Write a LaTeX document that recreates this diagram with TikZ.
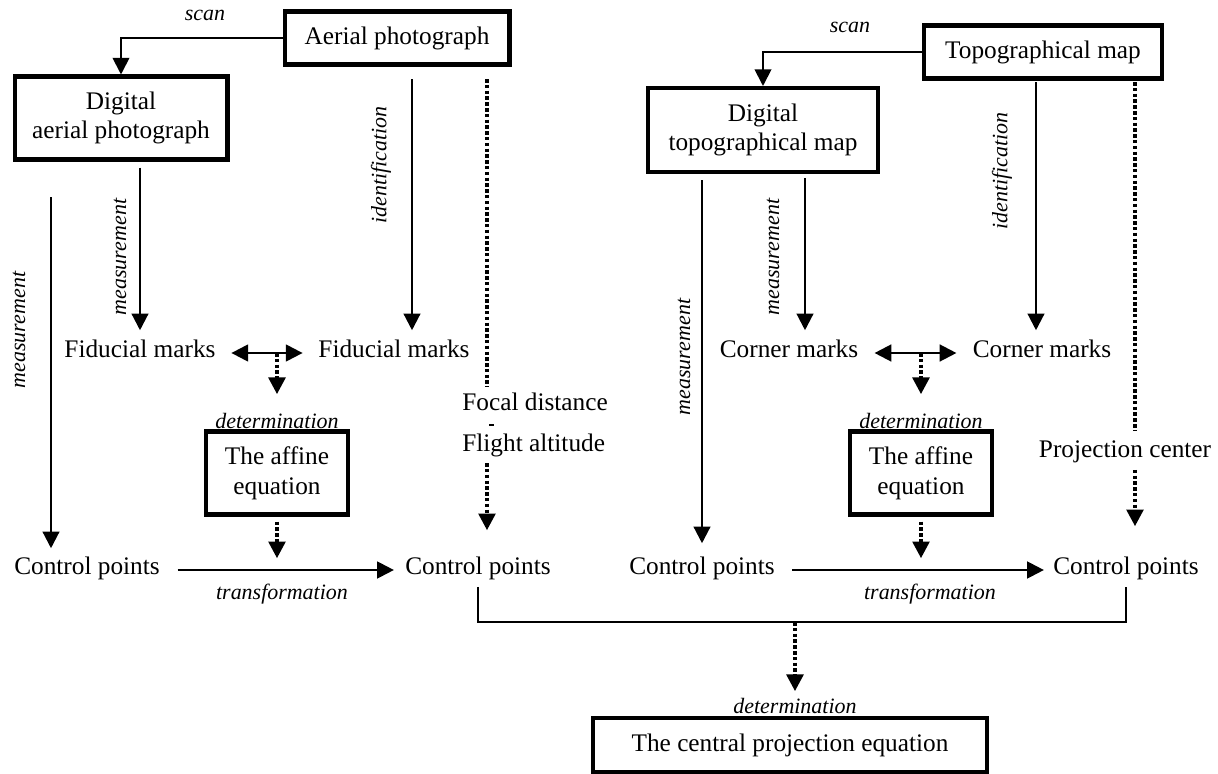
\documentclass[tikz,border=0pt]{standalone}
\usepackage{fontspec}
\setmainfont{Liberation Serif}
\usetikzlibrary{arrows.meta}

\begin{document}
\begin{tikzpicture}[x=0.02cm, y=-0.02cm,
	box/.style={draw, line width=2.3pt, align=center, inner sep=0pt, font=\fontsize{14.4}{17}\selectfont},
	txt/.style={inner sep=2pt, text height=0.7em, text depth=0.2em, font=\fontsize{14.4}{17}\selectfont},
	stack/.style={inner sep=0pt, align=left, font=\fontsize{14.4}{11.5}\selectfont},
	lbl/.style={inner sep=1pt, font=\fontsize{12.5}{14}\selectfont\itshape},
	arr/.style={line width=1.3pt, -{Triangle[width=9.5pt,length=9.5pt]}},
	twoarr/.style={line width=1.3pt, {Triangle[width=9.5pt,length=9.5pt]}-{Triangle[width=9.5pt,length=9.5pt]}},
	dotline/.style={line width=2pt, dash pattern=on 2pt off 1.3pt},
	dotarr/.style={dotline, -{Triangle[width=9.5pt,length=9.5pt]}}]

	\useasboundingbox (0,0) rectangle (1218,774);

	\node[box, minimum width=4.5cm, minimum height=1.06cm] (aer) at (397,38) {Aerial photograph};
	\node[box, minimum width=4.26cm, minimum height=1.66cm] (daer) at (121,118) {Digital\\aerial photograph};
	\node[box, minimum width=4.76cm, minimum height=1.06cm] (topo) at (1043,52) {Topographical map};
	\node[box, minimum width=4.6cm, minimum height=1.68cm] (dtopo) at (763,130) {Digital\\topographical map};

	\node[txt] (fidA) at (140,353) {Fiducial marks};
	\node[txt] (fidB) at (394,353) {Fiducial marks};
	\node[txt] (corA) at (789,353) {Corner marks};
	\node[txt] (corB) at (1042,353) {Corner marks};

	\node[lbl] (detA) at (277,421) {determination};
	\node[lbl] (detB) at (921,421) {determination};
	\node[box, minimum width=2.84cm, minimum height=1.66cm] (aff1) at (277,473) {The affine\\equation};
	\node[box, minimum width=2.84cm, minimum height=1.66cm] (aff2) at (921,473) {The affine\\equation};

	\node[stack, anchor=north west] (focal) at (462,393) {Focal distance\\\hspace*{0.54cm}\rule[0.1cm]{0.1cm}{0.035cm}\\Flight altitude};
	\node[txt] (proj) at (1125,453) {Projection center};

	\node[txt] (cpA) at (87,570) {Control points};
	\node[txt] (cpB) at (478,570) {Control points};
	\node[txt] (cpC) at (702,570) {Control points};
	\node[txt] (cpD) at (1126,570) {Control points};

	\node[lbl] (detC) at (795,706) {determination};
	\node[box, minimum width=7.9cm, minimum height=1.08cm] (cen) at (790,745) {The central projection equation};

	\node[lbl] (scanA) at (205,15) {scan};
	\node[lbl] (scanB) at (850,27) {scan};
	\node[lbl, rotate=90] (measA) at (120,257) {measurement};
	\node[lbl, rotate=90] (measB) at (19,330) {measurement};
	\node[lbl, rotate=90] (idfA) at (381,165) {identification};
	\node[lbl, rotate=90] (measC) at (684,357) {measurement};
	\node[lbl, rotate=90] (measD) at (773,257) {measurement};
	\node[lbl, rotate=90] (idfB) at (1002,171) {identification};
	\node[lbl] (tfA) at (282,594) {transformation};
	\node[lbl] (tfB) at (930,594) {transformation};

	\coordinate (mA) at (51,197);
	\coordinate (idA) at (412,79);
	\coordinate (dA) at (487,79);
	\coordinate (mB) at (805,178);
	\coordinate (idB) at (1036,82);
	\coordinate (dB) at (1135,82);
	\coordinate (brk) at (795,622);

	\draw[line width=1.1pt, -{Triangle[width=9.5pt,length=9.5pt]}] (aer.west) -| (daer.north);
	\draw[arr, shorten <=0.12cm, shorten >=0.22cm] (fidA.north |- daer.south) -- (fidA.north);
	\draw[arr, shorten >=0.2cm] (mA) -- (mA |- cpA.north);
	\draw[arr, shorten >=0.22cm] (idA) -- (idA |- fidB.north);
	\draw[dotline, shorten >=0.12cm] (dA) -- (dA |- focal.north);
	\draw[dotarr, shorten <=0.12cm, shorten >=0.56cm] (dA |- focal.south) -- (dA |- cpB.north);
	\draw[twoarr, shorten <=0.24cm, shorten >=0.24cm] (fidA.east) -- (fidB.west);
	\draw[dotarr, shorten >=0.34cm] (aff1.north |- fidA) -- (detA.north);
	\draw[dotarr, shorten <=0.1cm] (aff1.south) -- (aff1.south |- cpA.north);
	\draw[arr, shorten <=0.28cm, shorten >=0.15cm] (cpA.east) -- (cpB.west);

	\draw[line width=1.1pt, -{Triangle[width=9.5pt,length=9.5pt]}] (topo.west) -| (dtopo.north);
	\draw[arr, shorten <=0.12cm, shorten >=0.3cm] (cpC.north |- dtopo.south) -- (cpC.north);
	\draw[arr, shorten >=0.22cm] (mB) -- (mB |- corA.north);
	\draw[arr, shorten >=0.22cm] (idB) -- (idB |- corB.north);
	\draw[dotline, shorten >=0.2cm] (dB) -- (dB |- proj.north);
	\draw[dotarr, shorten <=0.1cm, shorten >=0.64cm] (dB |- proj.south) -- (dB |- cpD.north);
	\draw[twoarr, shorten <=0.25cm, shorten >=0.25cm] (corA.east) -- (corB.west);
	\draw[dotarr, shorten >=0.34cm] (aff2.north |- corA) -- (detB.north);
	\draw[dotarr, shorten <=0.1cm] (aff2.south) -- (aff2.south |- cpC.north);
	\draw[arr, shorten <=0.27cm, shorten >=0.11cm] (cpC.east) -- (cpD.west);

	\draw[line width=1.1pt, shorten <=0.1cm, shorten >=0.1cm] (cpB.south) |- (brk) -| (cpD.south);
	\draw[dotarr, shorten >=0.1cm] (brk) -- (detC.north);

\end{tikzpicture}
\end{document}
